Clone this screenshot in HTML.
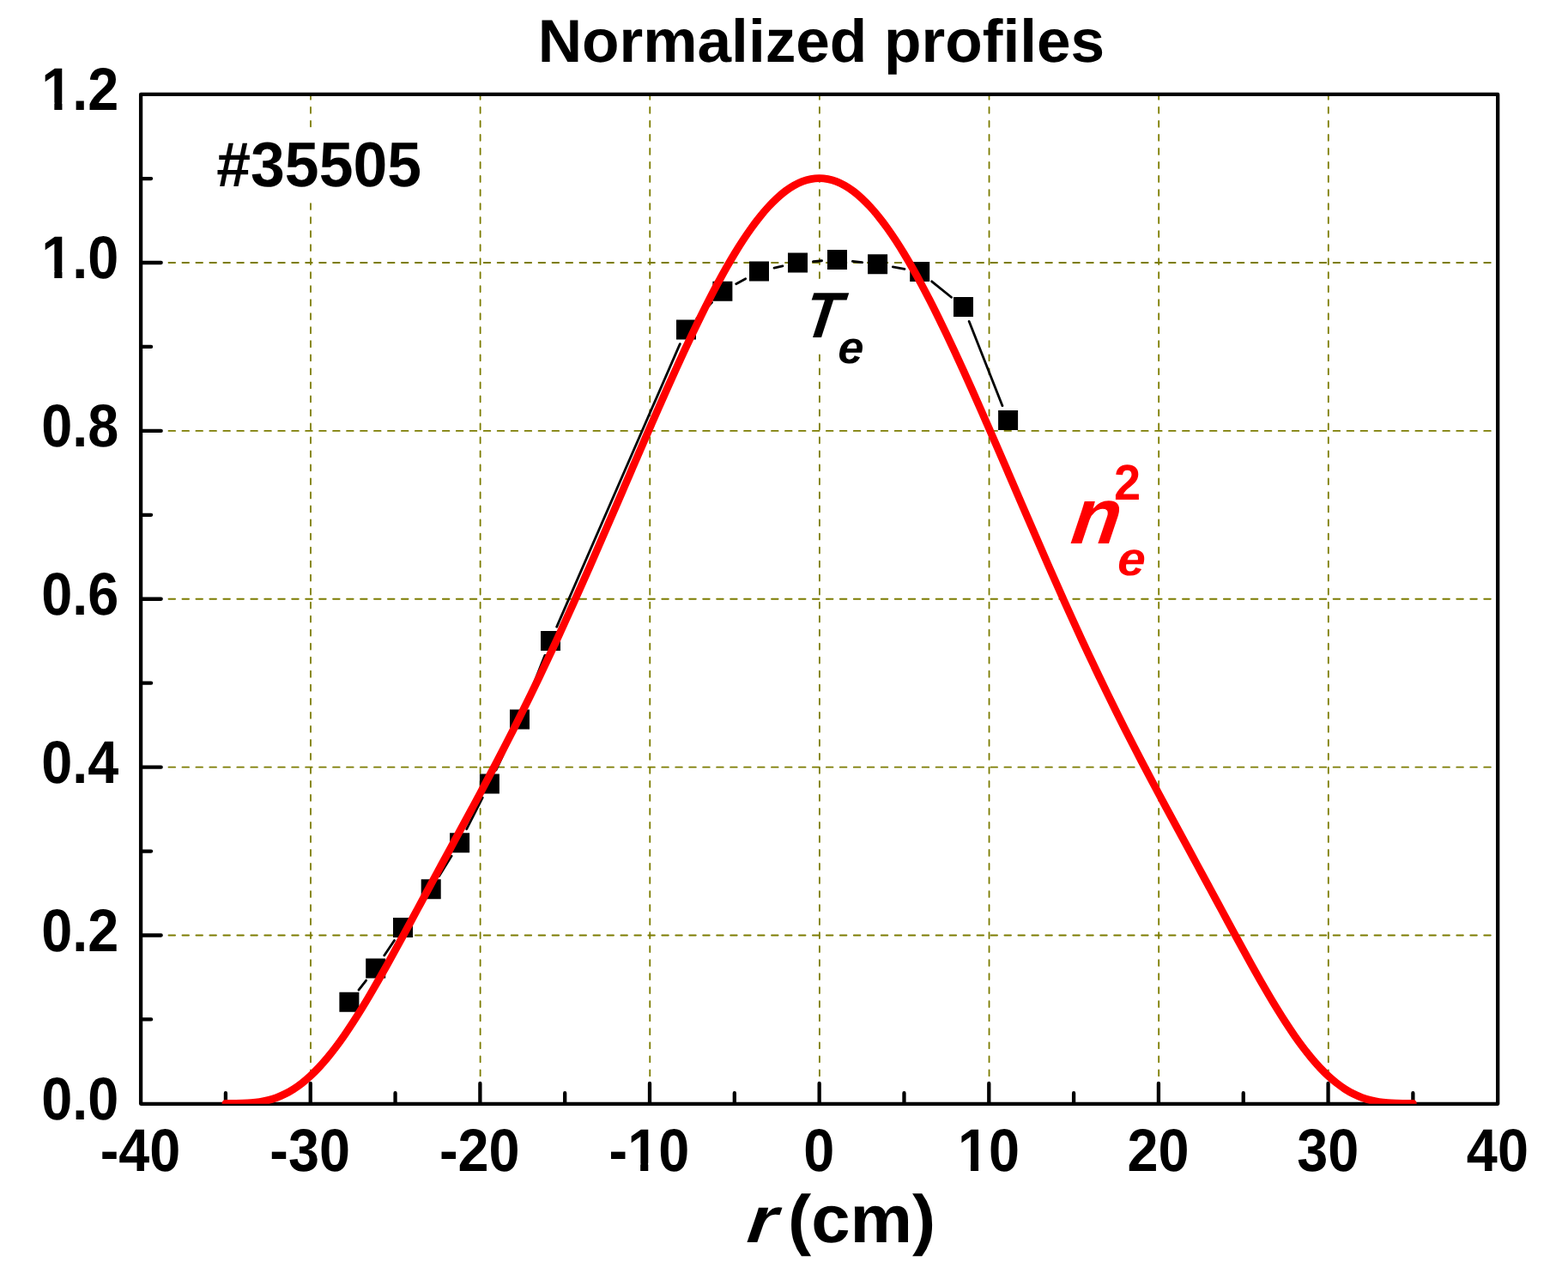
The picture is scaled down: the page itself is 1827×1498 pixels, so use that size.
<!DOCTYPE html>
<html lang="en"><head><meta charset="utf-8"><title>Normalized profiles</title>
<style>html,body{margin:0;padding:0;background:#fff}body{width:1827px;height:1498px;overflow:hidden}#chart{display:block;font-family:"Liberation Sans",sans-serif;font-weight:bold}#chart text{white-space:pre;text-rendering:geometricPrecision}</style>
</head><body>
<svg id="chart" width="1827" height="1498" viewBox="0 0 1827 1498">
<defs><clipPath id="plotclip"><rect x="164.10" y="109.90" width="1581.10" height="1175.95"/></clipPath></defs>
<rect x="0" y="0" width="1827" height="1498" fill="#ffffff"/>
<path d="M361.99 109.90V1285.85M559.62 109.90V1285.85M757.26 109.90V1285.85M954.90 109.90V1285.85M1152.54 109.90V1285.85M1350.18 109.90V1285.85M1547.81 109.90V1285.85" stroke="#7c7c00" stroke-width="1.8" stroke-linecap="round" stroke-dasharray="6.9 9.12" stroke-dashoffset="1.0" fill="none"/>
<path d="M164.10 1089.52H1745.20M164.10 893.64H1745.20M164.10 697.76H1745.20M164.10 501.88H1745.20M164.10 306.00H1745.20" stroke="#7c7c00" stroke-width="1.8" stroke-linecap="round" stroke-dasharray="7.6 8.366" stroke-dashoffset="15.5" fill="none"/>
<rect x="240" y="148.3" width="262" height="87" fill="#fff"/>
<rect x="930" y="325.5" width="90" height="86.5" fill="#fff"/>
<rect x="164.10" y="109.90" width="1581.10" height="1175.95" fill="none" stroke="#000" stroke-width="4.3" stroke-linejoin="round"/>
<path d="M262.92 1284.85V1273.15M361.74 1284.85V1261.95M460.56 1284.85V1273.15M559.38 1284.85V1261.95M658.19 1284.85V1273.15M757.01 1284.85V1261.95M855.83 1284.85V1273.15M954.65 1284.85V1261.95M1053.47 1284.85V1273.15M1152.29 1284.85V1261.95M1251.11 1284.85V1273.15M1349.93 1284.85V1261.95M1448.74 1284.85V1273.15M1547.56 1284.85V1261.95M1646.38 1284.85V1273.15M165.10 1187.46H176.10M165.10 1089.52H187.70M165.10 991.58H176.10M165.10 893.64H187.70M165.10 795.70H176.10M165.10 697.76H187.70M165.10 599.82H176.10M165.10 501.88H187.70M165.10 403.94H176.10M165.10 306.00H187.70M165.10 208.06H176.10" stroke="#000" stroke-width="4.3" stroke-linecap="round" fill="none"/>
<path d="M418.00 1153.03L426.60 1142.07M447.73 1112.95L459.47 1095.45M480.13 1065.97L491.57 1050.33M511.67 1020.49L526.13 997.11M543.73 965.74L562.27 929.16M578.03 896.80L597.87 854.40M612.09 821.35L634.91 763.35M648.69 730.10L792.31 400.60M811.87 371.03L829.53 352.37M857.71 330.69L868.69 324.71M902.05 312.12L911.95 309.88M947.45 304.53L957.55 303.77M993.39 304.41L1004.71 305.69M1040.32 310.88L1053.98 313.32M1085.69 327.82L1108.51 346.28M1129.12 374.34L1167.98 472.66" stroke="#000" stroke-width="2.8" stroke-linecap="round" fill="none"/>
<path fill="#000" d="M395.40 1155.70h23.0v23.0h-23.0zM426.20 1116.40h23.0v23.0h-23.0zM458.00 1069.00h23.0v23.0h-23.0zM490.70 1024.30h23.0v23.0h-23.0zM524.10 970.30h23.0v23.0h-23.0zM558.90 901.60h23.0v23.0h-23.0zM594.00 826.60h23.0v23.0h-23.0zM630.00 735.10h23.0v23.0h-23.0zM788.00 372.60h23.0v23.0h-23.0zM830.40 327.80h23.0v23.0h-23.0zM873.00 304.60h23.0v23.0h-23.0zM918.00 294.40h23.0v23.0h-23.0zM964.00 290.90h23.0v23.0h-23.0zM1011.10 296.20h23.0v23.0h-23.0zM1060.20 305.00h23.0v23.0h-23.0zM1111.00 346.10h23.0v23.0h-23.0zM1163.10 477.90h23.0v23.0h-23.0z"/>
<path d="M262.92 1285.40C264.57 1285.40 269.51 1285.41 272.80 1285.39C276.09 1285.36 279.39 1285.36 282.68 1285.25C285.98 1285.14 289.27 1285.02 292.56 1284.75C295.86 1284.48 299.15 1284.14 302.45 1283.62C305.74 1283.10 309.03 1282.47 312.33 1281.63C315.62 1280.79 318.92 1279.79 322.21 1278.57C325.50 1277.34 328.80 1275.93 332.09 1274.28C335.39 1272.63 338.68 1270.77 341.97 1268.67C345.27 1266.56 348.56 1264.23 351.86 1261.66C355.15 1259.08 358.44 1256.27 361.74 1253.22C365.03 1250.17 368.33 1246.88 371.62 1243.37C374.91 1239.86 378.21 1236.11 381.50 1232.16C384.80 1228.20 388.09 1224.02 391.38 1219.65C394.68 1215.29 397.97 1210.70 401.26 1205.97C404.56 1201.23 407.85 1196.29 411.15 1191.22C414.44 1186.15 417.73 1180.90 421.03 1175.55C424.32 1170.20 427.62 1164.70 430.91 1159.12C434.20 1153.53 437.50 1147.83 440.79 1142.06C444.09 1136.30 447.38 1130.44 450.67 1124.54C453.97 1118.64 457.26 1112.67 460.56 1106.67C463.85 1100.68 467.14 1094.64 470.44 1088.59C473.73 1082.54 477.03 1076.46 480.32 1070.38C483.61 1064.30 486.91 1058.20 490.20 1052.11C493.50 1046.02 496.79 1039.93 500.08 1033.84C503.38 1027.76 506.67 1021.67 509.97 1015.60C513.26 1009.52 516.55 1003.45 519.85 997.37C523.14 991.30 526.44 985.23 529.73 979.16C533.02 973.09 536.32 967.02 539.61 960.93C542.91 954.84 546.20 948.75 549.49 942.63C552.79 936.51 556.08 930.39 559.38 924.22C562.67 918.06 565.96 911.88 569.26 905.65C572.55 899.42 575.84 893.17 579.14 886.86C582.43 880.55 585.73 874.21 589.02 867.81C592.31 861.40 595.61 854.96 598.90 848.45C602.20 841.94 605.49 835.37 608.78 828.75C612.08 822.12 615.37 815.44 618.67 808.69C621.96 801.94 625.25 795.13 628.55 788.26C631.84 781.39 635.14 774.45 638.43 767.46C641.72 760.46 645.02 753.40 648.31 746.29C651.61 739.17 654.90 731.99 658.19 724.77C661.49 717.54 664.78 710.25 668.08 702.92C671.37 695.60 674.66 688.21 677.96 680.79C681.25 673.37 684.55 665.90 687.84 658.41C691.13 650.91 694.43 643.37 697.72 635.82C701.02 628.26 704.31 620.67 707.60 613.06C710.90 605.46 714.19 597.83 717.49 590.20C720.78 582.57 724.07 574.92 727.37 567.28C730.66 559.64 733.95 551.99 737.25 544.35C740.54 536.72 743.84 529.09 747.13 521.49C750.42 513.89 753.72 506.30 757.01 498.75C760.31 491.20 763.60 483.67 766.89 476.19C770.19 468.72 773.48 461.28 776.78 453.90C780.07 446.53 783.36 439.20 786.66 431.95C789.95 424.71 793.25 417.52 796.54 410.43C799.83 403.34 803.13 396.32 806.42 389.41C809.72 382.51 813.01 375.69 816.30 369.01C819.60 362.33 822.89 355.75 826.19 349.32C829.48 342.90 832.77 336.59 836.07 330.46C839.36 324.32 842.66 318.33 845.95 312.52C849.24 306.72 852.54 301.07 855.83 295.64C859.13 290.21 862.42 284.95 865.71 279.92C869.01 274.89 872.30 270.06 875.60 265.48C878.89 260.89 882.18 256.53 885.48 252.42C888.77 248.32 892.06 244.46 895.36 240.87C898.65 237.28 901.95 233.95 905.24 230.91C908.53 227.87 911.83 225.10 915.12 222.63C918.42 220.17 921.71 217.98 925.00 216.11C928.30 214.24 931.59 212.67 934.89 211.41C938.18 210.15 941.47 209.20 944.77 208.57C948.06 207.94 951.36 207.62 954.65 207.62C957.94 207.62 961.24 207.94 964.53 208.57C967.83 209.20 971.12 210.15 974.41 211.41C977.71 212.67 981.00 214.24 984.30 216.11C987.59 217.98 990.88 220.17 994.18 222.63C997.47 225.10 1000.77 227.87 1004.06 230.91C1007.35 233.95 1010.65 237.28 1013.94 240.87C1017.24 244.46 1020.53 248.32 1023.82 252.42C1027.12 256.53 1030.41 260.89 1033.71 265.48C1037.00 270.06 1040.29 274.89 1043.59 279.92C1046.88 284.95 1050.17 290.21 1053.47 295.64C1056.76 301.07 1060.06 306.72 1063.35 312.52C1066.64 318.33 1069.94 324.32 1073.23 330.46C1076.53 336.59 1079.82 342.90 1083.11 349.32C1086.41 355.75 1089.70 362.33 1093.00 369.01C1096.29 375.69 1099.58 382.51 1102.88 389.41C1106.17 396.32 1109.47 403.34 1112.76 410.43C1116.05 417.52 1119.35 424.71 1122.64 431.95C1125.94 439.20 1129.23 446.53 1132.52 453.90C1135.82 461.28 1139.11 468.72 1142.41 476.19C1145.70 483.67 1148.99 491.20 1152.29 498.75C1155.58 506.30 1158.88 513.89 1162.17 521.49C1165.46 529.09 1168.76 536.72 1172.05 544.35C1175.35 551.99 1178.64 559.64 1181.93 567.28C1185.23 574.92 1188.52 582.57 1191.82 590.20C1195.11 597.83 1198.40 605.46 1201.70 613.06C1204.99 620.67 1208.28 628.26 1211.58 635.82C1214.87 643.37 1218.17 650.91 1221.46 658.41C1224.75 665.90 1228.05 673.37 1231.34 680.79C1234.64 688.21 1237.93 695.60 1241.22 702.92C1244.52 710.25 1247.81 717.54 1251.11 724.77C1254.40 731.99 1257.69 739.17 1260.99 746.29C1264.28 753.40 1267.58 760.46 1270.87 767.46C1274.16 774.45 1277.46 781.39 1280.75 788.26C1284.05 795.13 1287.34 801.94 1290.63 808.69C1293.93 815.44 1297.22 822.12 1300.52 828.75C1303.81 835.37 1307.10 841.94 1310.40 848.45C1313.69 854.96 1316.99 861.40 1320.28 867.81C1323.57 874.21 1326.87 880.55 1330.16 886.86C1333.46 893.17 1336.75 899.42 1340.04 905.65C1343.34 911.88 1346.63 918.06 1349.93 924.22C1353.22 930.39 1356.51 936.51 1359.81 942.63C1363.10 948.75 1366.39 954.84 1369.69 960.93C1372.98 967.02 1376.28 973.09 1379.57 979.16C1382.86 985.23 1386.16 991.30 1389.45 997.37C1392.75 1003.45 1396.04 1009.52 1399.33 1015.60C1402.63 1021.67 1405.92 1027.76 1409.22 1033.84C1412.51 1039.93 1415.80 1046.02 1419.10 1052.11C1422.39 1058.20 1425.69 1064.30 1428.98 1070.38C1432.27 1076.46 1435.57 1082.54 1438.86 1088.59C1442.16 1094.64 1445.45 1100.68 1448.74 1106.67C1452.04 1112.67 1455.33 1118.64 1458.63 1124.54C1461.92 1130.44 1465.21 1136.30 1468.51 1142.06C1471.80 1147.83 1475.10 1153.53 1478.39 1159.12C1481.68 1164.70 1484.98 1170.20 1488.27 1175.55C1491.57 1180.90 1494.86 1186.15 1498.15 1191.22C1501.45 1196.29 1504.74 1201.23 1508.03 1205.97C1511.33 1210.70 1514.62 1215.29 1517.92 1219.65C1521.21 1224.02 1524.50 1228.20 1527.80 1232.16C1531.09 1236.11 1534.39 1239.86 1537.68 1243.37C1540.97 1246.88 1544.27 1250.17 1547.56 1253.22C1550.86 1256.27 1554.15 1259.08 1557.44 1261.66C1560.74 1264.23 1564.03 1266.56 1567.33 1268.67C1570.62 1270.77 1573.91 1272.63 1577.21 1274.28C1580.50 1275.93 1583.80 1277.34 1587.09 1278.57C1590.38 1279.79 1593.68 1280.79 1596.97 1281.63C1600.27 1282.47 1603.56 1283.10 1606.85 1283.62C1610.15 1284.14 1613.44 1284.48 1616.74 1284.75C1620.03 1285.02 1623.32 1285.14 1626.62 1285.25C1629.91 1285.36 1633.21 1285.36 1636.50 1285.39C1639.79 1285.41 1644.73 1285.40 1646.38 1285.40" clip-path="url(#plotclip)" stroke="#ff0000" stroke-width="8.8" stroke-linejoin="round" stroke-linecap="round" fill="none"/>
<text transform="translate(163.50 1363.70) scale(0.96 1.04)" font-size="67.5" text-anchor="middle" fill="#000">-40</text>
<text transform="translate(361.14 1363.70) scale(0.96 1.04)" font-size="67.5" text-anchor="middle" fill="#000">-30</text>
<text transform="translate(558.77 1363.70) scale(0.96 1.04)" font-size="67.5" text-anchor="middle" fill="#000">-20</text>
<text transform="translate(756.41 1363.70) scale(0.96 1.04)" font-size="67.5" text-anchor="middle" fill="#000">-10</text>
<path transform="translate(756.41 1363.70) scale(0.96 1.04)" fill="#fff" d="M-22.95 -8.59H-10.65V1H-22.95zM-1.19 -8.59H10.26V1H-1.19z"/>
<text transform="translate(954.35 1363.70) scale(0.96 1.04)" font-size="67.5" text-anchor="middle" fill="#000">0</text>
<text transform="translate(1151.99 1363.70) scale(0.96 1.04)" font-size="67.5" text-anchor="middle" fill="#000">10</text>
<path transform="translate(1151.99 1363.70) scale(0.96 1.04)" fill="#fff" d="M-34.19 -8.59H-21.89V1H-34.19zM-12.42 -8.59H-0.98V1H-12.42z"/>
<text transform="translate(1349.63 1363.70) scale(0.96 1.04)" font-size="67.5" text-anchor="middle" fill="#000">20</text>
<text transform="translate(1547.26 1363.70) scale(0.96 1.04)" font-size="67.5" text-anchor="middle" fill="#000">30</text>
<text transform="translate(1744.90 1363.70) scale(0.96 1.04)" font-size="67.5" text-anchor="middle" fill="#000">40</text>
<text transform="translate(138.40 1303.70) scale(0.96 1.04)" font-size="67.5" text-anchor="end" fill="#000">0.0</text>
<text transform="translate(138.40 1107.82) scale(0.96 1.04)" font-size="67.5" text-anchor="end" fill="#000">0.2</text>
<text transform="translate(138.40 911.94) scale(0.96 1.04)" font-size="67.5" text-anchor="end" fill="#000">0.4</text>
<text transform="translate(138.40 716.06) scale(0.96 1.04)" font-size="67.5" text-anchor="end" fill="#000">0.6</text>
<text transform="translate(138.40 520.18) scale(0.96 1.04)" font-size="67.5" text-anchor="end" fill="#000">0.8</text>
<text transform="translate(138.40 324.30) scale(0.96 1.04)" font-size="67.5" text-anchor="end" fill="#000">1.0</text>
<path transform="translate(138.40 324.30) scale(0.96 1.04)" fill="#fff" d="M-90.48 -8.59H-78.18V1H-90.48zM-68.72 -8.59H-57.27V1H-68.72z"/>
<text transform="translate(138.40 128.42) scale(0.96 1.04)" font-size="67.5" text-anchor="end" fill="#000">1.2</text>
<path transform="translate(138.40 128.42) scale(0.96 1.04)" fill="#fff" d="M-90.48 -8.59H-78.18V1H-90.48zM-68.72 -8.59H-57.27V1H-68.72z"/>
<text transform="translate(956.90 72.00) scale(1.0095 1.0)" font-size="70.5" text-anchor="middle" fill="#000">Normalized profiles</text>
<g><text transform="translate(868.90 1446.80) skewX(-7) scale(1.1 0.968)" font-size="78.5" text-anchor="start" fill="#000" font-style="italic">r</text><text transform="translate(895.35 1446.80) scale(1.0386 1.0)" font-size="78.5" text-anchor="start" fill="#000"> (cm)</text></g>
<text transform="translate(252.30 216.90) scale(0.98 1.01)" font-size="73" text-anchor="start" fill="#000">#35505</text>
<g><text transform="translate(934.40 392.70) skewX(-8.2) scale(0.965 1.047)" font-size="72" text-anchor="start" fill="#000" font-style="italic">T</text><text transform="translate(975.70 422.50) skewX(-3) scale(1.03 1.015)" font-size="52" text-anchor="start" fill="#000" font-style="italic">e</text></g>
<g><text transform="translate(1246.00 633.00) skewX(-8) scale(1.0 1.0)" font-size="92.6" text-anchor="start" fill="#ff0000" font-style="italic">n</text><text transform="translate(1301.60 670.00) skewX(-3) scale(1.04 0.985)" font-size="56" text-anchor="start" fill="#ff0000" font-style="italic">e</text><text transform="translate(1298.00 581.90) scale(1.0 1.04)" font-size="56" text-anchor="start" fill="#ff0000">2</text></g>
</svg>
</body></html>
